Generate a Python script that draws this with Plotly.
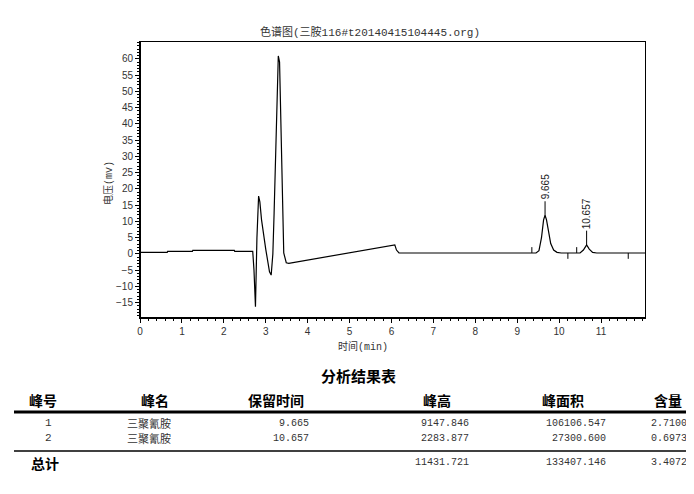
import plotly.graph_objects as go

# ---- chromatogram trace ----
time_min = [0, 0.65, 0.66, 1.25, 1.26, 2.25, 2.26, 2.69, 2.72, 2.755, 2.79, 2.83, 2.86, 2.9, 3.0,
            3.09, 3.13, 3.17, 3.2, 3.25, 3.3, 3.33, 3.37, 3.43, 3.49, 3.55, 6.08, 6.12, 6.18,
            9.45, 9.52, 9.58, 9.63, 9.665, 9.7, 9.75, 9.8, 9.87, 9.95, 10.05, 10.5, 10.58,
            10.657, 10.72, 10.8, 10.9, 12.05]
signal_mv = [0.5, 0.5, 0.8, 0.8, 1.1, 1.1, 0.8, 0.8, -5, -16.2, 5, 17.8, 16, 10.5, 1.5,
             -5.5, -6.5, 0, 12.6, 40, 60.9, 59, 35, 0.3, -2.7, -2.9, 2.8, 1.2, 0.3,
             0.3, 1.0, 5.0, 10.5, 11.9, 10.5, 6.5, 3.2, 1.2, 0.5, 0.3, 0.3, 1.2,
             2.8, 1.5, 0.5, 0.3, 0.3]

# peak labels
peak_times = [9.665, 10.657]
peak_tops = [11.9, 2.8]
peak_labels = ["9.665", "10.657"]

# peak start/end markers (time, direction)
mark_times = [9.35, 10.21, 10.42, 11.65]
mark_dirs = [1, -1, 1, -1]

# ---- result table ----
title_table = "分析结果表"
headers = ["峰号", "峰名", "保留时间", "峰高", "峰面积", "含量"]
peak_no = ["1", "2"]
peak_name = ["三聚氰胺", "三聚氰胺"]
ret_time = ["9.665", "10.657"]
peak_height = ["9147.846", "2283.877"]
peak_area = ["106106.547", "27300.600"]
content = ["2.7100", "0.6973"]
total_label = "总计"
total_height = "11431.721"
total_area = "133407.146"
total_content = "3.4072"

# page body has an 8px margin: build in reference pixel coords and shift
OFF = 8
W, H = 694 - OFF, 494 - 2 * OFF
L, R, T, B = 140, 645, 42, 318   # plot area in reference pixels


def px(x):
    return (x - L) / (R - L)


def py(y):
    return (B - y) / (B - T)


fig = go.Figure()
fig.add_trace(go.Scatter(x=time_min, y=signal_mv, mode="lines",
                         line=dict(color="black", width=1.2), hoverinfo="skip"))

mx, my = [], []
for t, d in zip(mark_times, mark_dirs):
    mx += [t, t, None]
    my += [0.3, 0.3 + d * 1.8, None]
fig.add_trace(go.Scatter(x=mx, y=my, mode="lines", line=dict(color="black", width=1),
                         hoverinfo="skip"))

cjk = "Noto Sans CJK SC, sans-serif"
mono = "Liberation Mono, Noto Sans CJK SC, monospace"

ann = []
for t, h, lab in zip(peak_times, peak_tops, peak_labels):
    ann.append(dict(x=t, y=h, xref="x", yref="y", text=lab, textangle=-90,
                    showarrow=True, arrowhead=0, arrowwidth=1, arrowcolor="black",
                    ax=0, ay=-12 - 3.2 * len(lab), font=dict(family="Arial", size=10, color="#222")))


def text_at(x, y, txt, fam, size, xanchor="center", color="#333"):
    ann.append(dict(x=px(x), y=py(y), xref="paper", yref="paper", text=txt,
                    xanchor=xanchor, yanchor="middle", showarrow=False,
                    font=dict(family=fam, size=size, color=color)))


# axis titles
ann.append(dict(x=px(108), y=py(183), xref="paper", yref="paper", text="电压(mv)", textangle=-90,
                xanchor="center", yanchor="middle",
                showarrow=False, font=dict(family=mono, size=10, color="#333")))
text_at(363, 346, "时间(min)", mono, 10)

# table
text_at(358, 375, "<b>" + title_table + "</b>", cjk, 15, color="black")
hdr_x = [43, 155, 276, 437, 563, 668]
for hx, htxt in zip(hdr_x, headers):
    text_at(hx, 400, "<b>" + htxt + "</b>", cjk, 14, color="black")

row_y = [423, 438]
for i, ry in enumerate(row_y):
    text_at(48, ry, peak_no[i], mono, 11)
    text_at(149, ry, peak_name[i], cjk, 11)
    text_at(311, ry, ret_time[i], mono, 10, "right")
    text_at(471, ry, peak_height[i], mono, 10, "right")
    text_at(608, ry, peak_area[i], mono, 10, "right")
    text_at(689, ry, content[i], mono, 10, "right")

text_at(45, 463, "<b>" + total_label + "</b>", cjk, 14, color="black")
text_at(471, 463, total_height, mono, 10, "right")
text_at(608, 463, total_area, mono, 10, "right")
text_at(689, 463, total_content, mono, 10, "right")

shapes = [
    dict(type="line", xref="paper", yref="paper", x0=px(14), x1=px(694), y0=py(412), y1=py(412),
         line=dict(color="black", width=3)),
    dict(type="line", xref="paper", yref="paper", x0=px(14), x1=px(694), y0=py(451), y1=py(451),
         line=dict(color="black", width=1.5)),
    # heavier left and bottom axis lines
    dict(type="line", xref="paper", yref="paper", x0=0, x1=0, y0=0, y1=1,
         line=dict(color="black", width=2)),
    dict(type="line", xref="paper", yref="paper", x0=0, x1=1, y0=0, y1=0,
         line=dict(color="black", width=2)),
]

fig.update_layout(
    width=W, height=H,
    margin=dict(l=L - OFF, r=W - (R - OFF), t=T - OFF, b=H - (B - OFF), autoexpand=False),
    paper_bgcolor="white", plot_bgcolor="white",
    showlegend=False,
    title=dict(text="色谱图(三胺116#t20140415104445.org)", x=(370 - OFF) / W, xanchor="center",
               y=1 - (32 - OFF) / H, yanchor="middle", font=dict(family=mono, size=11, color="#333")),
    annotations=ann, shapes=shapes,
    xaxis=dict(range=[0, 12.05], tickmode="array", tickvals=list(range(12)),
               showgrid=False, zeroline=False, showline=True, linecolor="black", linewidth=1,
               mirror=True, ticks="outside", ticklen=4, tickcolor="black",
               tickfont=dict(family="Arial", size=10, color="#333"),
               minor=dict(dtick=0.2, ticks="outside", ticklen=2, tickcolor="black", showgrid=False)),
    yaxis=dict(range=[-19.7, 65.2], tickmode="array", tickvals=list(range(-15, 61, 5)),
               showgrid=False, zeroline=False, showline=True, linecolor="black", linewidth=1,
               mirror=True, ticks="outside", ticklen=4, tickcolor="black",
               tickfont=dict(family="Arial", size=10, color="#333"),
               minor=dict(dtick=1, ticks="outside", ticklen=2, tickcolor="black", showgrid=False)),
)

fig.write_html("out.html")
